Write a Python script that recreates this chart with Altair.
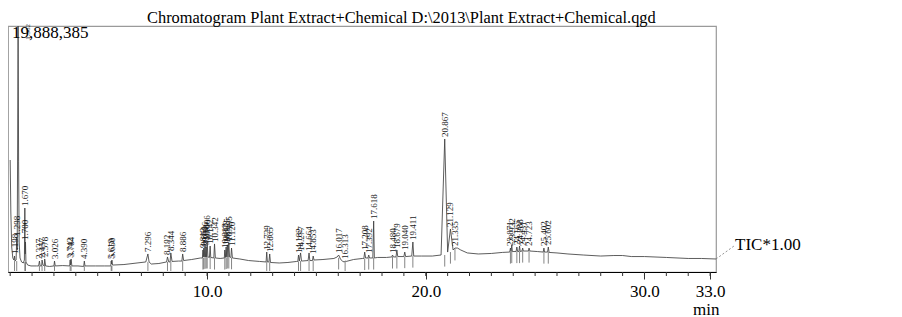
import altair as alt
import pandas as pd

# ---------------- data ----------------
title_text = [r"Chromatogram Plant Extract+Chemical D:\2013\Plant Extract+Chemical.qgd"]
max_label = ["19,888,385"]
tic_label = "TIC*1.00"
x_title = "min"

# retention time (min)
trace_time = [
    1.00, 1.03, 1.07, 1.12, 1.17, 1.198, 1.22, 1.27, 1.298, 1.32, 1.34, 1.362, 1.385, 1.41, 1.45,
    1.52, 1.60, 1.65, 1.670, 1.685, 1.700, 1.72, 1.80, 1.95, 2.20, 2.30, 2.337, 2.37, 2.44, 2.457,
    2.50, 2.56, 2.578, 2.62, 2.80, 3.00, 3.026, 3.06, 3.40, 3.72, 3.742, 3.76, 3.784, 3.82, 4.10,
    4.36, 4.390, 4.42, 4.90, 5.30, 5.60, 5.619, 5.635, 5.650, 5.68, 6.20, 6.80, 7.20, 7.296, 7.35,
    7.45, 7.80, 8.15, 8.192, 8.25, 8.31, 8.344, 8.40, 8.70, 8.85, 8.886, 8.93, 9.30, 9.70, 9.79,
    9.812, 9.83, 9.851, 9.875, 9.906, 9.93, 9.958, 9.98, 10.006, 10.04, 10.11, 10.142, 10.17, 10.31,
    10.342, 10.38, 10.60, 10.79, 10.812, 10.84, 10.873, 10.90, 10.925, 10.96, 10.995, 11.03, 11.09,
    11.120, 11.16, 11.50, 11.90, 12.40, 12.70, 12.729, 12.76, 12.83, 12.865, 12.90, 13.30, 13.70,
    14.10, 14.15, 14.182, 14.22, 14.277, 14.32, 14.62, 14.664, 14.70, 14.82, 14.853, 14.89, 15.30,
    15.80, 15.95, 16.017, 16.10, 16.20, 16.28, 16.313, 16.36, 16.70, 17.10, 17.17, 17.208, 17.25,
    17.36, 17.392, 17.43, 17.58, 17.618, 17.65, 17.80, 18.20, 18.45, 18.480, 18.52, 18.64, 18.679,
    18.72, 19.00, 19.040, 19.08, 19.36, 19.411, 19.45, 19.80, 20.30, 20.70, 20.867, 21.00, 21.129,
    21.25, 21.335, 21.45, 21.60, 21.90, 22.40, 23.00, 23.50, 23.84, 23.871, 23.90, 23.932, 23.96,
    24.13, 24.165, 24.20, 24.26, 24.288, 24.32, 24.40, 24.431, 24.46, 24.69, 24.723, 24.76, 25.10,
    25.37, 25.402, 25.43, 25.57, 25.602, 25.64, 26.00, 26.50, 27.20, 28.00, 28.60, 29.00, 29.40,
    30.00, 31.00, 32.00, 32.60, 33.27,
]
# abundance (millions of counts)
trace_abund = [
    8.70, 4.66, 1.94, 1.09, 0.93, 1.24, 0.85, 0.93, 2.64, 1.71, 9.32, 19.888385, 8.55, 2.33, 1.09,
    0.78, 0.70, 0.93, 4.97, 1.40, 2.33, 0.78, 0.54, 0.47, 0.47, 0.47, 0.85, 0.47, 0.47, 0.93,
    0.54, 0.47, 1.01, 0.47, 0.43, 0.47, 0.85, 0.47, 0.50, 0.47, 0.93, 0.54, 1.01, 0.47, 0.47,
    0.43, 0.85, 0.47, 0.47, 0.47, 0.47, 0.85, 0.62, 0.93, 0.54, 0.58, 0.70, 0.78, 1.40, 0.78,
    0.62, 0.66, 0.78, 1.17, 0.78, 0.78, 1.48, 0.82, 0.85, 0.85, 1.40, 0.89, 0.97, 1.09, 1.09,
    1.71, 1.17, 1.86, 1.17, 2.18, 1.17, 1.94, 1.17, 2.33, 1.17, 1.13, 2.02, 1.13, 1.09,
    2.18, 1.09, 1.05, 1.09, 1.71, 1.13, 1.94, 1.17, 2.10, 1.17, 2.25, 1.17, 1.13,
    1.86, 1.09, 1.01, 0.89, 0.82, 0.78, 1.55, 0.78, 0.78, 1.40, 0.74, 0.70, 0.74,
    0.82, 0.82, 1.32, 0.85, 1.48, 0.85, 0.89, 1.48, 0.89, 0.89, 1.24, 0.93, 0.97,
    1.05, 1.17, 1.32, 1.01, 0.82, 0.78, 0.85, 0.82, 0.97, 1.05, 1.05, 1.55, 1.09,
    1.09, 1.32, 1.09, 1.09, 3.96, 1.09, 1.13, 1.13, 1.17, 1.32, 1.17, 1.17, 1.71,
    1.20, 1.20, 1.55, 1.20, 1.24, 2.33, 1.24, 1.24, 1.24, 1.32, 10.33, 1.55, 3.34,
    1.71, 1.86, 1.86, 1.71, 1.48, 1.40, 1.44, 1.52, 1.55, 1.86, 1.59, 2.10, 1.59,
    1.59, 1.94, 1.59, 1.59, 2.02, 1.59, 1.63, 1.86, 1.63, 1.63, 1.86, 1.63, 1.59,
    1.55, 1.86, 1.55, 1.55, 1.94, 1.52, 1.48, 1.40, 1.32, 1.24, 1.28, 1.28, 1.20,
    1.20, 1.13, 1.05, 1.05, 1.01,
]

peak_rt = [
    1.198, 1.298, 1.670, 1.700, 2.337, 2.457, 2.578, 3.026, 3.742, 3.784, 4.390, 5.619, 5.650,
    7.296, 8.192, 8.344, 8.886, 9.812, 9.851, 9.906, 9.958, 10.006, 10.142, 10.342, 10.812,
    10.873, 10.925, 10.995, 11.120, 12.729, 12.865, 14.182, 14.277, 14.664, 14.853, 16.017,
    16.313, 17.208, 17.392, 17.618, 18.480, 18.679, 19.040, 19.411, 20.867, 21.129, 21.335,
    23.871, 23.932, 24.165, 24.288, 24.431, 24.723, 25.402, 25.602,
]
peak_label = [
    "1.198", "1.298", "1.670", "1.700", "2.337", "2.457", "2.578", "3.026", "3.742", "3.784",
    "4.390", "5.619", "5.650", "7.296", "8.192", "8.344", "8.886", "9.812", "9.851", "9.906",
    "9.958", "10.006", "10.142", "10.342", "10.812", "10.873", "10.925", "10.995", "11.120",
    "12.729", "12.865", "14.182", "14.277", "14.664", "14.853", "16.017", "16.313", "17.208",
    "17.392", "17.618", "18.480", "18.679", "19.040", "19.411", "20.867", "21.129", "21.335",
    "23.871", "23.932", "24.165", "24.288", "24.431", "24.723", "25.402", "25.602",
]
peak_top = [
    1.24, 2.64, 4.97, 2.33, 0.85, 0.93, 1.01, 0.85, 0.93, 1.01, 0.85, 0.85, 0.93,
    1.40, 1.17, 1.48, 1.40, 1.71, 1.86, 2.18, 1.94, 2.33, 2.02, 2.18, 1.71,
    1.94, 2.10, 2.25, 1.86, 1.55, 1.40, 1.32, 1.48, 1.48, 1.24, 1.32,
    0.85, 1.55, 1.32, 3.96, 1.32, 1.71, 1.55, 2.33, 10.33, 3.34, 1.86,
    1.86, 2.10, 1.94, 2.02, 1.86, 1.86, 1.86, 1.94,
]
peak_base = [
    0.85, 0.85, 0.78, 0.78, 0.47, 0.47, 0.47, 0.47, 0.47, 0.47, 0.45, 0.47, 0.47,
    0.78, 0.78, 0.80, 0.87, 1.09, 1.12, 1.15, 1.17, 1.17, 1.13, 1.09, 1.09,
    1.13, 1.17, 1.17, 1.11, 0.78, 0.76, 0.82, 0.85, 0.89, 0.89, 1.10,
    0.80, 1.05, 1.09, 1.09, 1.17, 1.17, 1.20, 1.24, 1.32, 1.55, 1.80,
    1.55, 1.59, 1.59, 1.59, 1.63, 1.63, 1.55, 1.55,
]

solvent_rt = [1.362]
solvent_label = ["1.362"]
solvent_top = [19.888385]

major_ticks = [10, 20, 30, 33]
minor_ticks = list(range(1, 34))

# ---------------- chart ----------------
FONT = "Liberation Serif"
W, H = 708, 246
xs = alt.Scale(domain=[0.9, 33.27], nice=False, zero=False)
ys = alt.Scale(domain=[0, 19.11], nice=False, zero=True)

trace_df = pd.DataFrame({"t": trace_time, "a": trace_abund})
peaks_df = pd.DataFrame({"rt": peak_rt, "label": peak_label, "top": peak_top, "base": peak_base})
solv_df = pd.DataFrame({"rt": solvent_rt, "label": solvent_label, "top": solvent_top})
end_df = pd.DataFrame({"t": [trace_time[-1]], "a": [trace_abund[-1]], "label": [tic_label]})
max_df = pd.DataFrame({"label": max_label})
title_df = pd.DataFrame({"label": title_text})
minor_df = pd.DataFrame({"m": minor_ticks})

x_axis = alt.Axis(
    values=major_ticks,
    format=".1f",
    tickSize=7,
    tickColor="#333333",
    domainColor="#000000",
    domainWidth=1,
    grid=False,
    labelFont=FONT,
    labelFontSize=17,
    labelColor="#000000",
    labelPadding=4,
    labelOverlap=False,
    labelFlush=False,
    labelBound=False,
    title=x_title,
    titleFont=FONT,
    titleFontSize=17,
    titleFontWeight="normal",
    titleColor="#000000",
    titleX=711,
    titleY=42,
    titleAlign="right",
    titleBaseline="alphabetic",
    titleAngle=0,
)

line = alt.Chart(trace_df).mark_line(color="#404040", strokeWidth=0.85, clip=True).encode(
    x=alt.X("t:Q", scale=xs, axis=x_axis),
    y=alt.Y("a:Q", scale=ys, axis=None),
)

minor = alt.Chart(minor_df).mark_rule(color="#333333", strokeWidth=1).encode(
    x=alt.X("m:Q", scale=xs),
    y=alt.value(H),
    y2=alt.value(H + 4),
)

markers = alt.Chart(peaks_df).transform_calculate(
    low="max(datum.base - 0.9, 0.08)"
).mark_rule(color="#666666", strokeWidth=0.8).encode(
    x=alt.X("rt:Q", scale=xs),
    y=alt.Y("base:Q", scale=ys),
    y2="low:Q",
)

labels = alt.Chart(peaks_df).mark_text(
    angle=270, align="left", baseline="middle", dx=2,
    font=FONT, fontSize=9, color="#1a1a1a",
).encode(
    x=alt.X("rt:Q", scale=xs),
    y=alt.Y("top:Q", scale=ys),
    text="label:N",
)

solv_label = alt.Chart(solv_df).mark_text(
    angle=270, align="right", baseline="middle", dx=-8, dy=10,
    font=FONT, fontSize=7, color="#333333",
).encode(
    x=alt.X("rt:Q", scale=xs),
    y=alt.Y("top:Q", scale=ys),
    text="label:N",
)

max_text = alt.Chart(max_df).mark_text(
    align="left", baseline="alphabetic", font=FONT, fontSize=17, color="#000000",
).encode(x=alt.value(4), y=alt.value(12), text="label:N")

title_mark = alt.Chart(title_df).mark_text(
    align="left", baseline="alphabetic", font=FONT, fontSize=16.4, color="#000000",
).encode(x=alt.value(139), y=alt.value(-3.5), text="label:N")

tic_text = alt.Chart(end_df).mark_text(
    align="left", baseline="alphabetic", dx=19, dy=-9,
    font=FONT, fontSize=17, color="#000000",
).encode(
    x=alt.X("t:Q", scale=xs),
    y=alt.Y("a:Q", scale=ys),
    text="label:N",
)

tic_link = alt.Chart(end_df).mark_rule(color="#777777", strokeWidth=0.8, strokeDash=[2, 2]).encode(
    x=alt.X("t:Q", scale=xs),
    y=alt.Y("a:Q", scale=ys),
    x2=alt.value(726),
    y2=alt.value(220),
)

chart = alt.layer(
    line, minor, markers, labels, solv_label, max_text, title_mark, tic_link, tic_text
).properties(
    width=W,
    height=H,
    padding={"left": 0, "top": 18, "right": 170, "bottom": 45},
    autosize=alt.AutoSizeParams(type="none"),
).configure_view(
    stroke="#9a9a9a", strokeWidth=1.2
)

chart.save("out.html", embed_options={"renderer": "svg", "actions": False})
